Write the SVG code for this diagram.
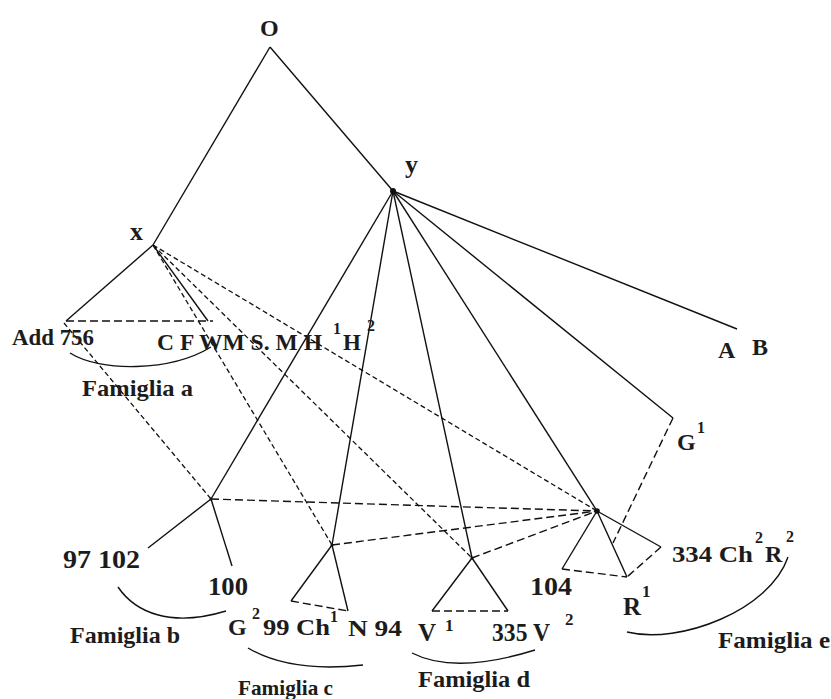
<svg xmlns="http://www.w3.org/2000/svg" width="831" height="699" viewBox="0 0 831 699">
<style>
  .ln{stroke:#111;stroke-width:1.4;fill:none}
  .dl{stroke:#111;stroke-width:1.4;fill:none;stroke-dasharray:8 4}
  .ds{stroke:#111;stroke-width:1.3;fill:none;stroke-dasharray:5 3}
  .arc{stroke:#111;stroke-width:1.4;fill:none}
  text{font-family:"Liberation Serif","Times New Roman",serif;font-weight:bold;fill:#1c1c1c;font-size:24px}
  .sup{font-size:16px}
  .big{font-size:26px}
</style>
<rect width="831" height="699" fill="#ffffff"/>
<g id="connectors">
  <path class="ln" d="M270,47 L153,245"/>
  <path class="ln" d="M270,47 L393,191"/>
  <path class="ln" d="M153,245 L66,321"/>
  <path class="ln" d="M153,245 L208,321"/>
  <path class="ln" d="M393,191 L737,329"/>
  <path class="ln" d="M393,191 L673,418"/>
  <path class="ln" d="M393,191 L597,511"/>
  <path class="ln" d="M393,191 L472,558"/>
  <path class="ln" d="M393,191 L332,545"/>
  <path class="ln" d="M393,191 L211,499"/>
  <path class="ln" d="M211,499 L148,548"/>
  <path class="ln" d="M211,499 L232,566"/>
  <path class="ln" d="M332,545 L291,601"/>
  <path class="ln" d="M332,545 L348,611"/>
  <path class="ln" d="M472,558 L432,611"/>
  <path class="ln" d="M472,558 L508,611"/>
  <path class="ln" d="M597,511 L562,569"/>
  <path class="ln" d="M597,511 L627,577"/>
  <path class="ln" d="M597,511 L661,547"/>
  <path class="dl" d="M66,321 L213,321"/>
  <path class="dl" d="M291,601 L348,611"/>
  <path class="dl" d="M432,611 L508,611"/>
  <path class="dl" d="M562,569 L627,577"/>
  <path class="dl" d="M661,547 L627,577"/>
  <path class="dl" d="M673,418 L613,543"/>
  <path class="dl" d="M211,499 L597,511"/>
  <path class="dl" d="M332,545 L597,511"/>
  <path class="dl" d="M472,558 L597,511"/>
  <path class="ds" d="M64,323 L211,499"/>
  <path class="ds" d="M153,245 L332,545"/>
  <path class="ds" d="M153,245 L472,558"/>
  <path class="ds" d="M153,245 L597,511"/>
  <path class="arc" d="M70,353 C100,372 170,372 211,347"/>
  <path class="arc" d="M118,587 C135,612 170,628 226,611"/>
  <path class="arc" d="M248,648 Q290,673 363,665"/>
  <path class="arc" d="M412,653 Q455,675 535,650"/>
  <path class="arc" d="M627,632 C680,645 770,610 788,557"/>
</g>
<g id="node-O"><text x="260" y="36">O</text></g>
<g id="node-x"><text class="big" x="130" y="240">x</text></g>
<g id="node-y"><circle cx="393" cy="191" r="3" fill="#111"/><text class="big" x="405" y="173">y</text></g>
<g id="node-b"><circle cx="211" cy="499" r="1.5" fill="#111"/></g>
<g id="node-c"><circle cx="332" cy="545" r="1.5" fill="#111"/></g>
<g id="node-d"><circle cx="472" cy="558" r="1.5" fill="#111"/></g>
<g id="node-e"><circle cx="597" cy="511" r="2.8" fill="#111"/></g>
<g id="family-a">
  <text x="12" y="345" textLength="82" lengthAdjust="spacingAndGlyphs">Add 756</text>
  <text x="157" y="350" style="font-size:23px" textLength="165" lengthAdjust="spacingAndGlyphs">C F WM S. M H</text>
  <text class="sup" x="333" y="334">1</text>
  <text x="343" y="350" style="font-size:23px">H</text>
  <text class="sup" x="367" y="331">2</text>
  <text x="82" y="396" textLength="111" lengthAdjust="spacingAndGlyphs">Famiglia a</text>
</g>
<g id="leaf-AB">
  <text x="718" y="358">A</text>
  <text x="752" y="355">B</text>
</g>
<g id="leaf-G1">
  <text x="677" y="450">G</text>
  <text class="sup" x="697" y="433">1</text>
</g>
<g id="family-b">
  <text class="big" x="63" y="568" textLength="77" lengthAdjust="spacingAndGlyphs">97 102</text>
  <text class="big" x="208" y="595" textLength="40" lengthAdjust="spacingAndGlyphs">100</text>
  <text x="70" y="643" textLength="110" lengthAdjust="spacingAndGlyphs">Famiglia b</text>
</g>
<g id="family-c">
  <text x="228" y="635">G</text>
  <text class="sup" x="252" y="619">2</text>
  <text x="263" y="635" textLength="67" lengthAdjust="spacingAndGlyphs">99 Ch</text>
  <text class="sup" x="330" y="622">1</text>
  <text x="348" y="636" textLength="54" lengthAdjust="spacingAndGlyphs">N 94</text>
  <text x="238" y="695" style="font-size:22px" textLength="95" lengthAdjust="spacingAndGlyphs">Famiglia c</text>
</g>
<g id="family-d">
  <text x="418" y="641" style="font-size:25px">V</text>
  <text class="sup" x="445" y="631" style="font-size:17px">1</text>
  <text x="492" y="641" style="font-size:25px" textLength="58" lengthAdjust="spacingAndGlyphs">335 V</text>
  <text class="sup" x="565" y="625" style="font-size:17px">2</text>
  <text x="418" y="687" textLength="112" lengthAdjust="spacingAndGlyphs">Famiglia d</text>
</g>
<g id="family-e">
  <text class="big" x="530" y="595" textLength="42" lengthAdjust="spacingAndGlyphs">104</text>
  <text x="623" y="615" style="font-size:25px">R</text>
  <text class="sup" x="642" y="597" style="font-size:17px">1</text>
  <text x="672" y="562" textLength="81" lengthAdjust="spacingAndGlyphs">334 Ch</text>
  <text class="sup" x="755" y="543">2</text>
  <text x="765" y="562">R</text>
  <text class="sup" x="786" y="542">2</text>
  <text x="718" y="648" textLength="112" lengthAdjust="spacingAndGlyphs">Famiglia e</text>
</g>
</svg>
